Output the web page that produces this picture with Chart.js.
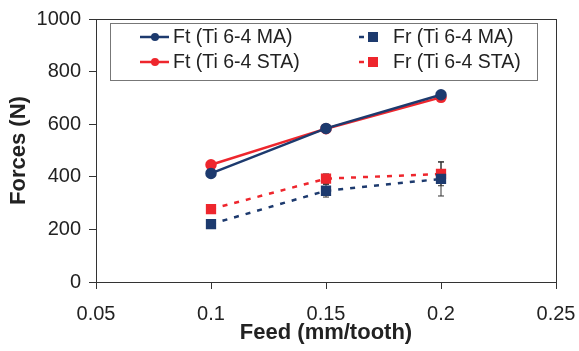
<!DOCTYPE html>
<html>
<head>
<meta charset="utf-8">
<script src="https://cdn.jsdelivr.net/npm/chart.js@4"></script>
<style>
  body { margin: 0; background: #fff; }
  #wrap { width: 579px; height: 351px; }
</style>
</head>
<body>
<div id="wrap"><canvas id="myChart" width="579" height="351"></canvas></div>
<script>
const feeds = [0.1, 0.15, 0.2];
const xTicks = [0.05, 0.1, 0.15, 0.2, 0.25];
const yTicks = [0, 200, 400, 600, 800, 1000];

const ftMA = [413, 584, 712];
const ftSTA = [446, 583, 702];
const frMA = [220, 347, 392];
const frSTA = [277, 393, 411];

const ftMAErr = [0, 4, 8];
const ftSTAErr = [0, 4, 10];
const frMAErr = [0, 24, 65];
const frSTAErr = [0, 18, 45];

const navy = '#1d3a6e';
const red = '#ee262d';

function pts(vals){
  return vals.map((v, i) => ({x: feeds[i], y: v}));
}

const data = {
  datasets: [{
    label: 'Ft (Ti 6-4 MA)',
    data: pts(ftMA),
    errors: ftMAErr,
    borderColor: navy,
    backgroundColor: navy,
    borderWidth: 2.5,
    pointStyle: 'circle',
    pointRadius: 4.5,
    legendCol: 0, legendRow: 0
  },{
    label: 'Ft (Ti 6-4 STA)',
    data: pts(ftSTA),
    errors: ftSTAErr,
    borderColor: red,
    backgroundColor: red,
    borderWidth: 2.5,
    pointStyle: 'circle',
    pointRadius: 4.5,
    legendCol: 0, legendRow: 1
  },{
    label: 'Fr (Ti 6-4 MA)',
    data: pts(frMA),
    errors: frMAErr,
    borderColor: navy,
    backgroundColor: navy,
    borderWidth: 2.5,
    borderDash: [5, 7],
    pointStyle: 'rect',
    pointRadius: 5.5,
    legendCol: 1, legendRow: 0
  },{
    label: 'Fr (Ti 6-4 STA)',
    data: pts(frSTA),
    errors: frSTAErr,
    borderColor: red,
    backgroundColor: red,
    borderWidth: 2.5,
    borderDash: [5, 7],
    pointStyle: 'rect',
    pointRadius: 5.5,
    legendCol: 1, legendRow: 1
  }]
};

const errorBars = {
  id: 'errorBars',
  beforeDatasetsDraw(chart){
    const {ctx, scales: {x, y}} = chart;
    ctx.save();
    ctx.strokeStyle = '#333';
    ctx.lineWidth = 1;
    chart.data.datasets.forEach(ds => {
      ds.data.forEach((p, i) => {
        const e = ds.errors[i];
        if (!e) return;
        const px = x.getPixelForValue(p.x);
        const top = y.getPixelForValue(p.y + e);
        const bot = y.getPixelForValue(p.y - e);
        ctx.beginPath();
        ctx.moveTo(px, top); ctx.lineTo(px, bot);
        ctx.moveTo(px - 3, top); ctx.lineTo(px + 3, top);
        ctx.moveTo(px - 3, bot); ctx.lineTo(px + 3, bot);
        ctx.stroke();
      });
    });
    ctx.restore();
  }
};

const frameAndLegend = {
  id: 'frameAndLegend',
  afterDraw(chart){
    const {ctx, chartArea: {left, right, top, bottom}} = chart;
    ctx.save();
    ctx.strokeStyle = '#333';
    ctx.lineWidth = 1;
    ctx.strokeRect(left + 0.5, top + 0.5, right - left, bottom - top);

    // legend box
    ctx.fillStyle = '#fff';
    ctx.fillRect(110, 23, 428, 58);
    ctx.strokeStyle = '#777';
    ctx.strokeRect(110.5, 23.5, 427, 57);

    ctx.font = '19.5px "Liberation Sans", Arial, sans-serif';
    ctx.textBaseline = 'middle';
    ctx.textAlign = 'left';
    chart.data.datasets.forEach(ds => {
      const cy = 37 + ds.legendRow * 25;
      const x0 = ds.legendCol === 0 ? 140 : 359;
      const x1 = ds.legendCol === 0 ? 169 : 378;
      const mx = ds.legendCol === 0 ? 155 : 373;
      const tx = ds.legendCol === 0 ? 173 : 393;
      ctx.strokeStyle = ds.borderColor;
      ctx.fillStyle = ds.borderColor;
      ctx.lineWidth = 2.5;
      if (ds.borderDash) {
        ctx.beginPath();
        ctx.moveTo(x0, cy); ctx.lineTo(x0 + 5, cy);
        ctx.stroke();
        ctx.fillRect(mx - 5, cy - 5, 10, 10);
      } else {
        ctx.beginPath();
        ctx.moveTo(x0, cy); ctx.lineTo(x1, cy);
        ctx.stroke();
        ctx.beginPath();
        ctx.arc(mx, cy, 4, 0, Math.PI * 2);
        ctx.fill();
      }
      ctx.fillStyle = '#222';
      ctx.fillText(ds.label, tx, cy + 1);
    });
    ctx.restore();
  }
};

const tickFont = {family: '"Liberation Sans", Arial, sans-serif', size: 20};
const titleFont = {family: '"Liberation Sans", Arial, sans-serif', size: 22, weight: 'bold'};

const config = {
  type: 'line',
  data: data,
  options: {
    responsive: false,
    animation: false,
    layout: {padding: {top: 19, right: 23, left: 0, bottom: 0}},
    plugins: {legend: {display: false}, tooltip: {enabled: false}},
    scales: {
      x: {
        type: 'linear',
        min: 0.05,
        max: 0.25,
        afterBuildTicks(scale){ scale.ticks = xTicks.map(v => ({value: v})); },
        afterFit(scale){ scale.height = 69; scale.paddingLeft = 0; scale.paddingRight = 0; },
        grid: {drawOnChartArea: false, drawTicks: true, tickLength: 7, color: '#333'},
        border: {display: true, color: '#333'},
        ticks: {
          color: '#222', font: tickFont, padding: 13, maxRotation: 0,
          callback: v => String(parseFloat(v.toFixed(2)))
        },
        title: {display: true, text: 'Feed (mm/tooth)', color: '#222', font: titleFont, padding: {top: 0, bottom: 5}}
      },
      y: {
        min: 0,
        max: 1000,
        afterBuildTicks(scale){ scale.ticks = yTicks.map(v => ({value: v})); },
        afterFit(scale){ scale.width = 96; scale.paddingTop = 0; scale.paddingBottom = 0; },
        grid: {drawOnChartArea: false, drawTicks: true, tickLength: 7, color: '#333'},
        border: {display: true, color: '#333'},
        ticks: {color: '#222', font: tickFont, padding: 8, callback: v => String(v)},
        title: {display: true, text: 'Forces (N)', color: '#222', font: titleFont, padding: {top: 6, bottom: 0}}
      }
    }
  },
  plugins: [errorBars, frameAndLegend]
};

const myChart = new Chart(document.getElementById('myChart'), config);
</script>
</body>
</html>
